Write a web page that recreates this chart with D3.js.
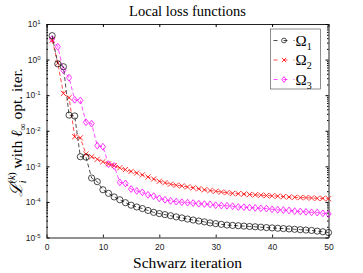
<!DOCTYPE html>
<html>
<head>
<meta charset="utf-8">
<script src="https://cdn.jsdelivr.net/npm/d3@7"></script>
<style>
  body { margin: 0; background: #fff; }
  svg { display: block; }
  .serif { font-family: "Liberation Serif", "DejaVu Serif", serif; }
  .tick text { font-family: "Liberation Sans", Arial, sans-serif; font-size: 8.5px; fill: #222; }
</style>
</head>
<body>
<svg id="chart"></svg>
<script>
// Data (Schwarz iteration 1..50)
const iterations = d3.range(1, 51);

const omega1 = [4.7, 0.76, 0.63, 0.0275, 0.026, 1.86e-3, 1.82e-3, 4.7e-4, 3.7e-4, 2.2e-4,
  1.74e-4, 1.38e-4, 1.15e-4, 9.5e-5, 8.1e-5, 7.2e-5, 6.5e-5, 5.75e-5, 5.1e-5, 4.7e-5,
  4.4e-5, 4.1e-5, 3.8e-5, 3.55e-5, 3.3e-5, 3.1e-5, 2.9e-5, 2.75e-5, 2.57e-5, 2.45e-5,
  2.34e-5, 2.24e-5, 2.19e-5, 2.14e-5, 2.09e-5, 2.04e-5, 2.0e-5, 1.95e-5, 1.9e-5, 1.86e-5,
  1.82e-5, 1.78e-5, 1.74e-5, 1.7e-5, 1.66e-5, 1.62e-5, 1.58e-5, 1.51e-5, 1.45e-5, 1.38e-5];

const omega2 = [3.5, 0.8, 0.112, 0.085, 6.8e-3, 6.3e-3, 2.2e-3, 1.86e-3, 1.58e-3, 1.35e-3,
  1.17e-3, 1.05e-3, 9.1e-4, 8.1e-4, 7.2e-4, 6.5e-4, 5.75e-4, 5.0e-4, 4.4e-4, 3.8e-4,
  3.47e-4, 3.16e-4, 2.95e-4, 2.82e-4, 2.63e-4, 2.5e-4, 2.34e-4, 2.19e-4, 2.09e-4, 2.0e-4,
  1.9e-4, 1.82e-4, 1.74e-4, 1.7e-4, 1.66e-4, 1.62e-4, 1.58e-4, 1.55e-4, 1.51e-4, 1.48e-4,
  1.45e-4, 1.41e-4, 1.38e-4, 1.35e-4, 1.32e-4, 1.32e-4, 1.29e-4, 1.26e-4, 1.26e-4, 1.23e-4];

const omega3 = [3.8, 2.3, 0.5, 0.31, 0.074, 0.071, 0.0174, 0.0158, 3.8e-3, 3.55e-3,
  1.15e-3, 1.02e-3, 3.55e-4, 3.3e-4, 2.3e-4, 2.04e-4, 1.86e-4, 1.58e-4, 1.45e-4, 1.26e-4,
  1.15e-4, 1.07e-4, 1.02e-4, 9.8e-5, 9.5e-5, 9.3e-5, 8.9e-5, 8.7e-5, 8.5e-5, 8.1e-5,
  7.9e-5, 7.8e-5, 7.6e-5, 7.2e-5, 7.1e-5, 6.9e-5, 6.8e-5, 6.6e-5, 6.5e-5, 6.2e-5,
  6.0e-5, 5.9e-5, 5.75e-5, 5.5e-5, 5.4e-5, 5.25e-5, 5.1e-5, 5.0e-5, 4.8e-5, 4.6e-5];

const seriesNames = ["1", "2", "3"];
const xTicks = [0, 10, 20, 30, 40, 50];
const yExponents = [-5, -4, -3, -2, -1, 0, 1];

const W = 363, H = 273;
const margin = {top: 24, right: 34.5, bottom: 35.5, left: 46.5},
    width = W - margin.left - margin.right,
    height = H - margin.top - margin.bottom;

const svgRoot = d3.select("#chart").attr("width", W).attr("height", H);
const svg = svgRoot.append("g")
    .attr("transform", `translate(${margin.left},${margin.top})`);

const x = d3.scaleLinear().domain([0, 50]).range([0, width]);
const y = d3.scaleLog().domain([1e-5, 10]).range([height, 0]);

const series = [
  {name: seriesNames[0], values: omega1, color: "#000000", marker: "circle"},
  {name: seriesNames[1], values: omega2, color: "#ff0000", marker: "cross"},
  {name: seriesNames[2], values: omega3, color: "#ff00ff", marker: "diamond"}
];

// axes (ticks pointing inward, MATLAB style)
const yMinor = [];
for (let e = -5; e < 1; e++) for (let k = 2; k <= 9; k++) yMinor.push(k * Math.pow(10, e));

const fmtPow = g => {
  g.selectAll(".tick text").each(function(d) {
    const t = d3.select(this).text("");
    t.append("tspan").text("10");
    t.append("tspan").attr("dy", "-0.5em").style("font-size", "6px").text(Math.round(Math.log10(d)));
  });
};

svg.append("g")
    .attr("transform", `translate(0,${height})`)
    .call(d3.axisBottom(x).tickValues(xTicks).tickSize(-3).tickPadding(6).tickSizeOuter(0))
    .call(g => g.select(".domain").attr("stroke", "#222"))
    .call(g => g.selectAll(".tick line").attr("stroke", "#222"));

svg.append("g")
    .call(d3.axisTop(x).tickValues(xTicks).tickSize(-3).tickFormat("").tickSizeOuter(0))
    .call(g => g.select(".domain").attr("stroke", "#222"));

svg.append("g")
    .call(d3.axisLeft(y).tickValues(yExponents.map(e => Math.pow(10, e))).tickSize(-3).tickPadding(6).tickSizeOuter(0))
    .call(g => g.select(".domain").attr("stroke", "#222"))
    .call(fmtPow);

svg.append("g")
    .call(d3.axisLeft(y).tickValues(yMinor).tickSize(-1.5).tickFormat("").tickSizeOuter(0))
    .call(g => g.select(".domain").remove());

svg.append("g")
    .attr("transform", `translate(${width},0)`)
    .call(d3.axisRight(y).tickValues(yExponents.map(e => Math.pow(10, e))).tickSize(-3).tickFormat("").tickSizeOuter(0))
    .call(g => g.select(".domain").attr("stroke", "#222"));

svg.append("g")
    .attr("transform", `translate(${width},0)`)
    .call(d3.axisRight(y).tickValues(yMinor).tickSize(-1.5).tickFormat("").tickSizeOuter(0))
    .call(g => g.select(".domain").remove());

// markers
function drawMarker(sel, type, color, s) {
  if (type === "circle") {
    sel.append("circle").attr("r", s).attr("fill", "none").attr("stroke", color).attr("stroke-width", 0.7);
  } else if (type === "cross") {
    sel.append("path").attr("d", `M${-s},${-s}L${s},${s}M${-s},${s}L${s},${-s}`)
      .attr("stroke", color).attr("stroke-width", 0.8);
  } else {
    sel.append("path").attr("d", `M0,${-s * 1.3}L${s},0L0,${s * 1.3}L${-s},0Z`)
      .attr("fill", "none").attr("stroke", color).attr("stroke-width", 0.8);
  }
}

const line = d3.line().x((d, i) => x(iterations[i])).y(d => y(d));

const plot = svg.append("g");
series.slice().reverse().forEach(s => {
  plot.append("path")
      .datum(s.values)
      .attr("fill", "none")
      .attr("stroke", s.color)
      .attr("stroke-width", 0.7)
      .attr("stroke-dasharray", "4,2.5")
      .attr("d", line);
  plot.selectAll(null)
      .data(s.values)
      .enter()
      .append("g")
      .attr("transform", (d, i) => `translate(${x(iterations[i])},${y(d)})`)
      .each(function() { drawMarker(d3.select(this), s.marker, s.color, s.marker === "circle" ? 3.1 : 2.6); });
});

// legend
const legend = svg.append("g").attr("transform", `translate(${width - 58},5)`);
legend.append("rect")
    .attr("width", 50).attr("height", 60)
    .attr("fill", "#fff").attr("stroke", "#444").attr("stroke-width", 0.6);

const entry = legend.selectAll(".entry")
    .data(series)
    .enter()
    .append("g")
    .attr("transform", (d, i) => `translate(0,${11.5 + i * 19.5})`);

entry.append("line")
    .attr("x1", 3).attr("x2", 24)
    .attr("stroke", d => d.color).attr("stroke-width", 0.7)
    .attr("stroke-dasharray", "4,6");
entry.each(function(d) { drawMarker(d3.select(this).append("g").attr("transform", "translate(13.5,0)"), d.marker, d.color, d.marker === "circle" ? 2.4 : 2.2); });

const lt = entry.append("text")
    .attr("class", "serif")
    .attr("x", 25).attr("y", 5)
    .style("font-size", "15px");
lt.append("tspan").text("Ω");
lt.append("tspan").attr("dy", 4).style("font-size", "10px").text(d => d.name);

// title and axis labels
svgRoot.append("text")
    .attr("class", "serif")
    .attr("x", margin.left + width / 2).attr("y", 16)
    .attr("text-anchor", "middle")
    .style("font-size", "14.5px")
    .text("Local loss functions");

svgRoot.append("text")
    .attr("class", "serif")
    .attr("x", margin.left + width / 2).attr("y", 268)
    .attr("text-anchor", "middle")
    .style("font-size", "15.5px")
    .text("Schwarz iteration");

const yl = svgRoot.append("text")
    .attr("class", "serif")
    .attr("transform", `translate(22,${margin.top + height / 2 + 2}) rotate(-90)`)
    .attr("text-anchor", "middle")
    .style("font-size", "15.5px");
yl.append("tspan").style("font-style", "italic").style("font-size", "17px").text("ℒ");
yl.append("tspan").attr("dy", 4).style("font-size", "10px").style("font-style", "italic").text("i");
yl.append("tspan").attr("dy", -11).attr("dx", -3).style("font-size", "10px").text("(");
yl.append("tspan").style("font-size", "10px").style("font-style", "italic").text("k");
yl.append("tspan").style("font-size", "10px").text(")");
yl.append("tspan").attr("dy", 7).text(" with ");
yl.append("tspan").style("font-style", "italic").text("ℓ");
yl.append("tspan").attr("dy", 4).style("font-size", "10px").text("∞");
yl.append("tspan").attr("dy", -4).text(" opt. iter.");
</script>
</body>
</html>
